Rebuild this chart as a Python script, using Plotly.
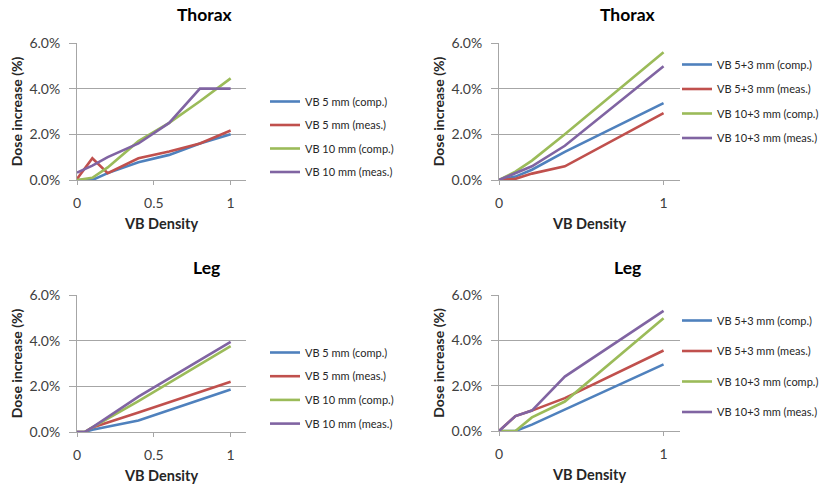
import plotly.graph_objects as go

W, H = 834, 491

# ---------------- data (dose increase in %) ----------------
thorax_a_x = [0, 0.1, 0.2, 0.4, 0.6, 0.8, 1.0]
thorax_a_5_comp = [0, 0, 0.3, 0.78, 1.1, 1.6, 2.0]
thorax_a_5_meas = [0.05, 0.95, 0.3, 0.95, 1.25, 1.6, 2.17]
thorax_a_10_comp = [0, 0.1, 0.55, 1.7, 2.5, 3.45, 4.45]
thorax_a_10_meas = [0.32, 0.63, 1.0, 1.6, 2.5, 4.0, 4.0]

thorax_b_x = [0, 0.1, 0.2, 0.4, 1.0]
thorax_b_5_comp = [0, 0.15, 0.45, 1.23, 3.37]
thorax_b_5_meas = [0, 0.05, 0.28, 0.6, 2.93]
thorax_b_10_comp = [0, 0.37, 0.85, 2.0, 5.6]
thorax_b_10_meas = [0, 0.3, 0.6, 1.5, 4.98]

leg_a_x = [0, 0.05, 0.1, 0.4, 1.0]
leg_a_5_comp = [0, 0, 0.1, 0.5, 1.86]
leg_a_5_meas = [0, 0, 0.2, 0.85, 2.2]
leg_a_10_comp = [0, 0, 0.2, 1.35, 3.76]
leg_a_10_meas = [0, 0, 0.2, 1.55, 3.95]

leg_b_x = [0, 0.1, 0.2, 0.4, 1.0]
leg_b_5_comp = [0, 0, 0.28, 0.95, 2.94]
leg_b_5_meas = [0, 0.66, 0.9, 1.45, 3.55]
leg_b_10_comp = [0, 0, 0.6, 1.3, 4.97]
leg_b_10_meas = [0, 0.66, 0.9, 2.4, 5.3]

names_a = ["VB 5 mm (comp.)", "VB 5 mm (meas.)", "VB 10 mm (comp.)", "VB 10 mm (meas.)"]
names_b = ["VB 5+3 mm (comp.)", "VB 5+3 mm (meas.)", "VB 10+3 mm (comp.)", "VB 10+3 mm (meas.)"]
panel_titles = ["Thorax", "Thorax", "Leg", "Leg"]
y_ticks = [0, 2, 4, 6]
y_ticktext = ["0.0%", "2.0%", "4.0%", "6.0%"]
x_ticks_a = [0, 0.5, 1]
x_ticktext_a = ["0", "0.5", "1"]
x_ticks_b = [0, 1]
x_ticktext_b = ["0", "1"]
colors = ["#4F81BD", "#C0504D", "#9BBB59", "#8064A2"]

FONT = "Lato"

panels = [
    dict(x=thorax_a_x, ys=[thorax_a_5_comp, thorax_a_5_meas, thorax_a_10_comp, thorax_a_10_meas],
         names=names_a, xt=x_ticks_a, xtt=x_ticktext_a, px=(77, 246), py=(43, 180),
         leg=(265, 102, 23.3), title=(205, 14)),
    dict(x=thorax_b_x, ys=[thorax_b_5_comp, thorax_b_5_meas, thorax_b_10_comp, thorax_b_10_meas],
         names=names_b, xt=x_ticks_b, xtt=x_ticktext_b, px=(499, 680), py=(43, 180),
         leg=(677, 65, 24.3), title=(628, 14)),
    dict(x=leg_a_x, ys=[leg_a_5_comp, leg_a_5_meas, leg_a_10_comp, leg_a_10_meas],
         names=names_a, xt=x_ticks_a, xtt=x_ticktext_a, px=(77, 246), py=(295, 432),
         leg=(265, 353, 23.5), title=(206, 267)),
    dict(x=leg_b_x, ys=[leg_b_5_comp, leg_b_5_meas, leg_b_10_comp, leg_b_10_meas],
         names=names_b, xt=x_ticks_b, xtt=x_ticktext_b, px=(499, 680), py=(295, 431),
         leg=(677, 321, 30.3), title=(627, 267)),
]

fig = go.Figure()
layout = dict(
    width=W, height=H, margin=dict(l=0, r=0, t=0, b=0, autoexpand=False),
    paper_bgcolor="white", plot_bgcolor="white",
    font=dict(family=FONT, size=14, color="#262626"),
    annotations=[],
)

for i, p in enumerate(panels):
    k = "" if i == 0 else str(i + 1)
    lname = "legend" + k
    for j in range(4):
        fig.add_trace(go.Scatter(
            x=p["x"], y=p["ys"][j], name=p["names"][j], mode="lines",
            line=dict(color=colors[j], width=2.6),
            xaxis="x" + k, yaxis="y" + k, legend=lname,
            legendgroup=f"g{i}_{j}", hoverinfo="skip",
        ))
    x0, x1 = p["px"]
    yt, yb = p["py"]
    layout["xaxis" + k] = dict(
        domain=[x0 / W, x1 / W], anchor="y" + k, range=[0, 1.1],
        tickvals=p["xt"], ticktext=p["xtt"],
        showgrid=False, zeroline=False, showline=True, linecolor="#A6A6A6", linewidth=1,
        ticks="outside", ticklen=4, tickcolor="#A6A6A6", ticklabelstandoff=6,
        tickfont=dict(size=14, color="#404040"),
        title=dict(text="<b>VB Density</b>", font=dict(size=14.5, color="#262626"), standoff=9),
        fixedrange=True,
    )
    layout["yaxis" + k] = dict(
        domain=[1 - yb / H, 1 - yt / H], anchor="x" + k, range=[0, 6],
        tickvals=y_ticks, ticktext=y_ticktext,
        showgrid=True, gridcolor="#A6A6A6", gridwidth=1, zeroline=False,
        showline=True, linecolor="#A6A6A6", linewidth=1,
        ticks="outside", ticklen=7, tickcolor="#A6A6A6", ticklabelstandoff=6,
        tickfont=dict(size=14, color="#404040"),
        title=dict(text="<b>Dose increase (%)</b>", font=dict(size=14, color="#262626"), standoff=3),
        fixedrange=True,
    )
    lx, ly, gap = p["leg"]
    layout[lname] = dict(
        x=lx / W, y=1 - (ly - 15) / H, xanchor="left", yanchor="top",
        font=dict(size=11, color="#262626", family=FONT),
        tracegroupgap=max(gap - 18.8, 0), bgcolor="rgba(0,0,0,0)", borderwidth=0,
        itemwidth=30,
    )
    tx, ty = p["title"]
    layout["annotations"].append(dict(
        text="<b>" + panel_titles[i] + "</b>", x=tx / W, y=1 - ty / H, xref="paper", yref="paper",
        xanchor="center", yanchor="middle", showarrow=False,
        font=dict(size=17.5, color="#000000", family=FONT),
    ))

fig.update_layout(**layout)
fig.write_html("out.html", config={"displayModeBar": False},
               post_script="document.body.style.margin='0px';")
